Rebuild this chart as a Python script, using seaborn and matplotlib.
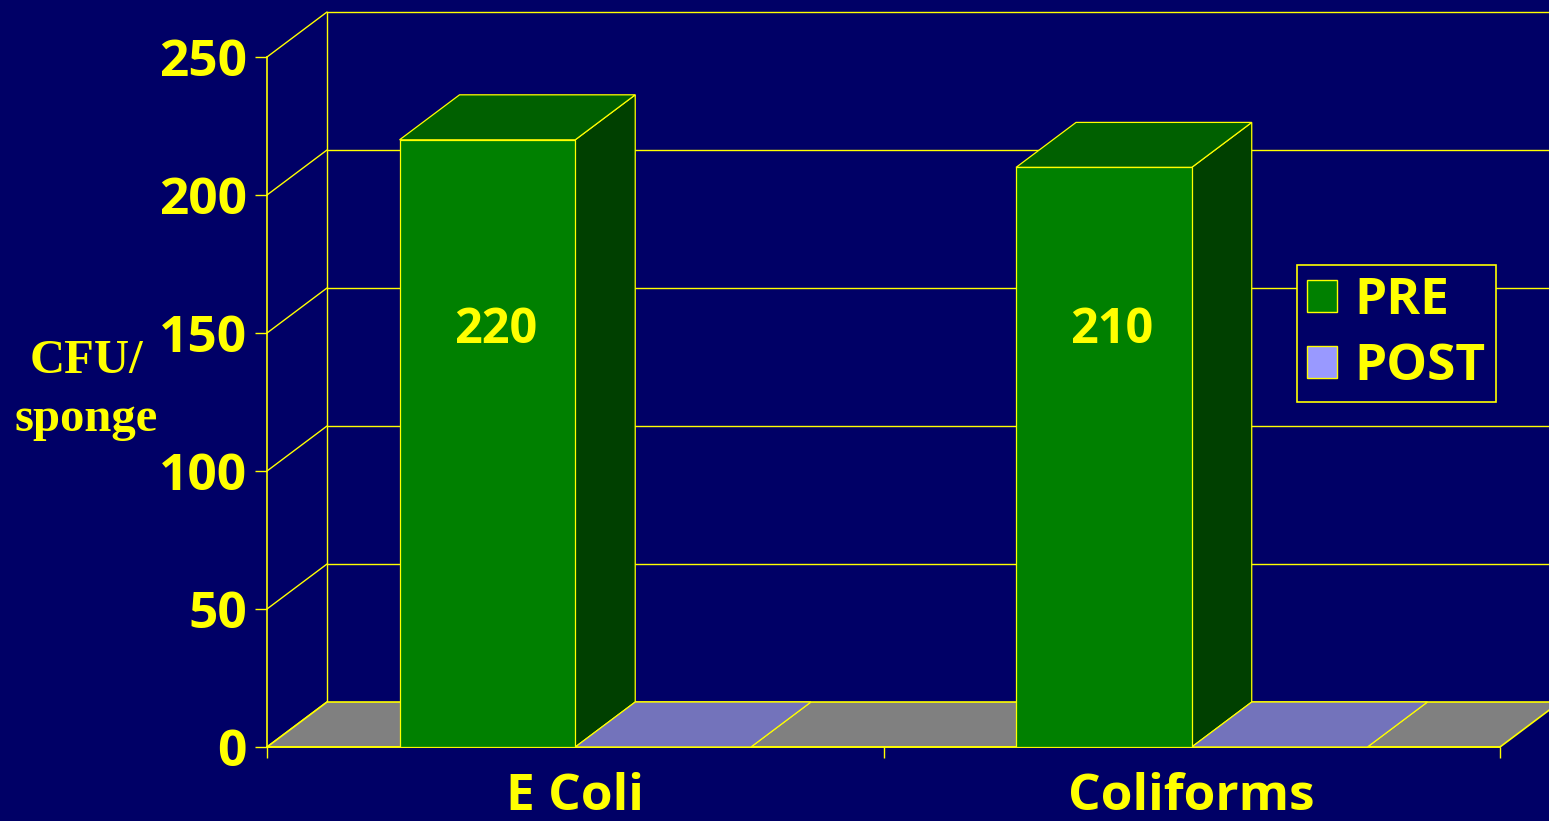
import matplotlib
matplotlib.use("Agg")
import matplotlib.pyplot as plt
from matplotlib.patches import Polygon, Patch
import pandas as pd
import seaborn as sns

# ---- data ----
organisms = ["E Coli", "Coliforms"]
phases = ["PRE", "POST"]
pre_values = [220, 210]
post_values = [0, 0]
y_ticks = [0, 50, 100, 150, 200, 250]
y_label = "CFU/\nsponge"

# ---- colours ----
NAVY = "#000066"
YELLOW = "#FFFF00"
FLOOR = "#808080"
front_colors = {"PRE": "#008000", "POST": "#9999FF"}
top_colors = {"PRE": "#006000", "POST": "#7373BB"}
side_colors = {"PRE": "#004000", "POST": "#5A5AA0"}

df = pd.DataFrame({
    "organism": organisms * 2,
    "phase": [phases[0]] * len(organisms) + [phases[1]] * len(organisms),
    "cfu": pre_values + post_values,
})

sns.set_theme(style="white")
plt.rcParams["font.family"] = ["Open Sans", "DejaVu Sans"]
plt.rcParams["font.weight"] = "bold"

W, H = 1549, 821
fig = plt.figure(figsize=(W / 100, H / 100), dpi=100, facecolor=NAVY)
ax = fig.add_axes([267 / W, 74 / H, 1233 / W, 690 / H])
ax.set_facecolor(NAVY)

sns.barplot(
    data=df, x="organism", y="cfu", hue="phase",
    order=organisms, hue_order=phases, palette=front_colors,
    width=0.57, saturation=1, errorbar=None, legend=False,
    edgecolor=YELLOW, linewidth=0.9, zorder=5, ax=ax,
)

x_lo, x_hi = -0.5, len(organisms) - 0.5
y_top = y_ticks[-1]
ax.set_xlim(x_lo, x_hi)
ax.set_ylim(0, y_top)

# depth offset of the 3-D box (category units, value units)
DX, DY = 0.0973, 16.3

# floor
ax.add_patch(Polygon([(x_lo, 0), (x_hi, 0), (x_hi + DX, DY), (x_lo + DX, DY)],
                     closed=True, facecolor=FLOOR, edgecolor=YELLOW, lw=1.2,
                     zorder=1, clip_on=False))

# side wall diagonals and back wall gridlines
line_kw = dict(color=YELLOW, lw=1.0, clip_on=False, zorder=0.8)
for v in y_ticks:
    ax.plot([x_lo, x_lo + DX], [v, v + DY], **line_kw)
    if v > 0:
        ax.plot([x_lo + DX, x_hi + DX + 0.5], [v + DY, v + DY], **line_kw)
ax.plot([x_lo + DX, x_lo + DX], [DY, y_top + DY], **line_kw)

# extrude the bars into 3-D: side and top faces
for phase, container in zip(phases, ax.containers):
    for rect in container:
        x0, w, h = rect.get_x(), rect.get_width(), rect.get_height()
        x1 = x0 + w
        side = Polygon([(x1, 0), (x1 + DX, DY), (x1 + DX, h + DY), (x1, h)],
                       closed=True, facecolor=side_colors[phase],
                       edgecolor=YELLOW, lw=0.9, zorder=4, clip_on=False)
        top = Polygon([(x0, h), (x1, h), (x1 + DX, h + DY), (x0 + DX, h + DY)],
                      closed=True, facecolor=top_colors[phase],
                      edgecolor=YELLOW, lw=0.9, zorder=4, clip_on=False)
        ax.add_patch(side)
        ax.add_patch(top)
        if h > 0:
            ax.text(x0 + w / 2 + 0.013, 151, f"{h:g}", ha="center", va="center",
                    fontsize=35, fontweight="bold", color=YELLOW, zorder=6)

# axes styling
for s in ("top", "right"):
    ax.spines[s].set_visible(False)
for s in ("left", "bottom"):
    ax.spines[s].set_color(YELLOW)
    ax.spines[s].set_linewidth(1.2)

ax.set_yticks(y_ticks)
ax.set_yticklabels([str(v) for v in y_ticks])
ax.tick_params(axis="y", left=True, colors=YELLOW, length=8.6, width=1.0,
               pad=6, labelsize=37)
ax.set_xticks(range(len(organisms)))
ax.set_xticklabels(organisms)
ax.set_xticks([x_lo + i for i in range(len(organisms) + 1)], minor=True)
ax.tick_params(axis="x", which="major", bottom=False, length=0,
               labelcolor=YELLOW, labelsize=37, pad=18)
ax.tick_params(axis="x", which="minor", bottom=True, length=8, width=1.0,
               color=YELLOW)
for lab in ax.get_xticklabels() + ax.get_yticklabels():
    lab.set_fontweight("bold")
ax.set_xlabel("")
ax.set_ylabel("")

fig.text(86 / W, 1 - 390 / H, y_label, ha="center", va="center",
         family="Liberation Serif", fontweight="bold", fontsize=35,
         color=YELLOW, linespacing=1.42)

handles = [Patch(facecolor=front_colors[p], edgecolor=YELLOW, lw=1.0) for p in phases]
leg = ax.legend(handles, phases, loc="center",
                bbox_to_anchor=(1396.5 / W, 1 - 334 / H),
                bbox_transform=fig.transFigure, frameon=True, fancybox=False,
                edgecolor=YELLOW, facecolor=NAVY, framealpha=1,
                prop={"family": "Open Sans", "size": 37, "weight": "bold"},
                handlelength=0.58, handleheight=0.58, handletextpad=0.35,
                borderpad=0.2, labelspacing=0.32, borderaxespad=0)
leg.get_frame().set_linewidth(1.2)
for t in leg.get_texts():
    t.set_color(YELLOW)
leg.set_zorder(10)

fig.savefig("out.png", dpi=100, facecolor=NAVY)
